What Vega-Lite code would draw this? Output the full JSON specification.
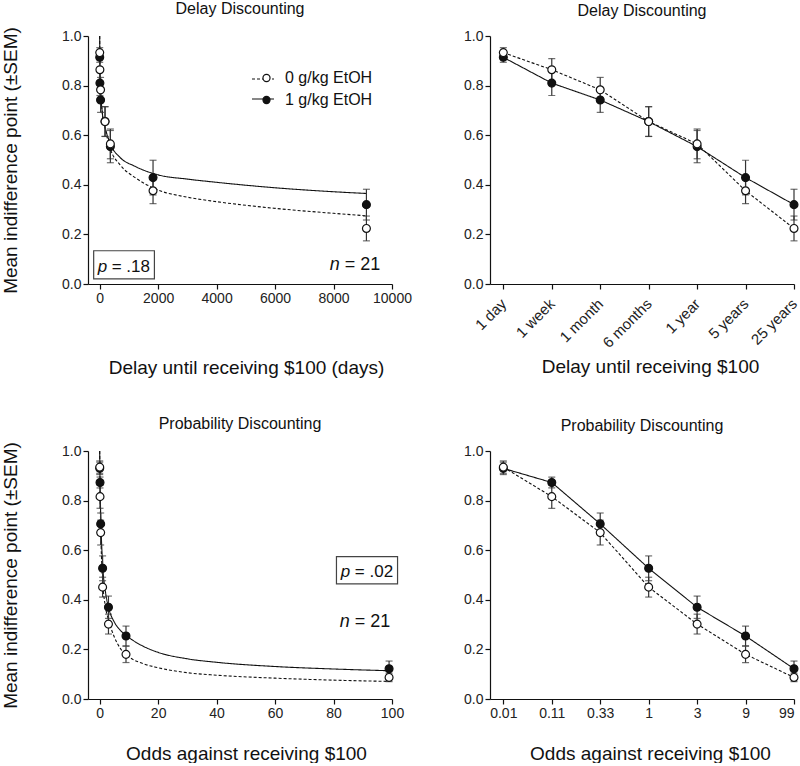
{
  "$schema": "https://vega.github.io/schema/vega-lite/v6.json",
  "padding": 0,
  "background": "white",
  "bounds": "flush",
  "columns": 2,
  "spacing": {"row": 167, "column": 98},
  "config": {
    "font": "Liberation Sans",
    "view": {"stroke": null},
    "axis": {"grid": false, "domainColor": "#111", "tickColor": "#111", "domainWidth": 1.2, "tickWidth": 1.2, "tickSize": 5, "labelColor": "#222", "labelFontSize": 14, "labelFont": "Liberation Sans", "titleFont": "Liberation Sans", "titleFontSize": 19, "titleFontWeight": "normal", "titleColor": "#111", "labelPadding": 2, "labelFlush": false, "labelOverlap": false},
    "title": {"font": "Liberation Sans", "fontSize": 16, "fontWeight": "normal", "color": "#111", "offset": 10, "baseline": "alphabetic"}
  },
  "datasets": {
    "delay": [
      {"grp": "1 g/kg EtOH", "days": 1, "delay": "1 day", "mean": 0.914, "lo": 0.894, "hi": 0.934},
      {"grp": "1 g/kg EtOH", "days": 7, "delay": "1 week", "mean": 0.810, "lo": 0.760, "hi": 0.860},
      {"grp": "1 g/kg EtOH", "days": 30, "delay": "1 month", "mean": 0.742, "lo": 0.692, "hi": 0.792},
      {"grp": "1 g/kg EtOH", "days": 182.5, "delay": "6 months", "mean": 0.655, "lo": 0.595, "hi": 0.715},
      {"grp": "1 g/kg EtOH", "days": 365, "delay": "1 year", "mean": 0.554, "lo": 0.489, "hi": 0.619},
      {"grp": "1 g/kg EtOH", "days": 1825, "delay": "5 years", "mean": 0.429, "lo": 0.359, "hi": 0.499},
      {"grp": "1 g/kg EtOH", "days": 9125, "delay": "25 years", "mean": 0.320, "lo": 0.258, "hi": 0.382},
      {"grp": "0 g/kg EtOH", "days": 1, "delay": "1 day", "mean": 0.933, "lo": 0.913, "hi": 0.953},
      {"grp": "0 g/kg EtOH", "days": 7, "delay": "1 week", "mean": 0.864, "lo": 0.819, "hi": 0.909},
      {"grp": "0 g/kg EtOH", "days": 30, "delay": "1 month", "mean": 0.783, "lo": 0.733, "hi": 0.833},
      {"grp": "0 g/kg EtOH", "days": 182.5, "delay": "6 months", "mean": 0.655, "lo": 0.595, "hi": 0.715},
      {"grp": "0 g/kg EtOH", "days": 365, "delay": "1 year", "mean": 0.565, "lo": 0.505, "hi": 0.625},
      {"grp": "0 g/kg EtOH", "days": 1825, "delay": "5 years", "mean": 0.376, "lo": 0.324, "hi": 0.428},
      {"grp": "0 g/kg EtOH", "days": 9125, "delay": "25 years", "mean": 0.224, "lo": 0.174, "hi": 0.274}
    ],
    "delayFit": [
      {"grp": "1 g/kg EtOH", "days": 0, "v": 1.0},
      {"grp": "1 g/kg EtOH", "days": 7, "v": 0.88},
      {"grp": "1 g/kg EtOH", "days": 30, "v": 0.79},
      {"grp": "1 g/kg EtOH", "days": 90, "v": 0.69},
      {"grp": "1 g/kg EtOH", "days": 180, "v": 0.635},
      {"grp": "1 g/kg EtOH", "days": 365, "v": 0.565},
      {"grp": "1 g/kg EtOH", "days": 700, "v": 0.51},
      {"grp": "1 g/kg EtOH", "days": 1200, "v": 0.475},
      {"grp": "1 g/kg EtOH", "days": 2000, "v": 0.44},
      {"grp": "1 g/kg EtOH", "days": 3000, "v": 0.423},
      {"grp": "1 g/kg EtOH", "days": 4000, "v": 0.41},
      {"grp": "1 g/kg EtOH", "days": 6000, "v": 0.388},
      {"grp": "1 g/kg EtOH", "days": 8000, "v": 0.372},
      {"grp": "1 g/kg EtOH", "days": 9125, "v": 0.365},
      {"grp": "0 g/kg EtOH", "days": 0, "v": 1.0},
      {"grp": "0 g/kg EtOH", "days": 7, "v": 0.88},
      {"grp": "0 g/kg EtOH", "days": 30, "v": 0.79},
      {"grp": "0 g/kg EtOH", "days": 90, "v": 0.69},
      {"grp": "0 g/kg EtOH", "days": 180, "v": 0.63},
      {"grp": "0 g/kg EtOH", "days": 365, "v": 0.545},
      {"grp": "0 g/kg EtOH", "days": 700, "v": 0.48},
      {"grp": "0 g/kg EtOH", "days": 1200, "v": 0.43},
      {"grp": "0 g/kg EtOH", "days": 2000, "v": 0.379},
      {"grp": "0 g/kg EtOH", "days": 3000, "v": 0.35},
      {"grp": "0 g/kg EtOH", "days": 4000, "v": 0.332},
      {"grp": "0 g/kg EtOH", "days": 6000, "v": 0.305},
      {"grp": "0 g/kg EtOH", "days": 8000, "v": 0.285},
      {"grp": "0 g/kg EtOH", "days": 9125, "v": 0.275}
    ],
    "prob": [
      {"grp": "1 g/kg EtOH", "odds": 0.01, "oddsLabel": "0.01", "mean": 0.930, "lo": 0.905, "hi": 0.955},
      {"grp": "1 g/kg EtOH", "odds": 0.111, "oddsLabel": "0.11", "mean": 0.873, "lo": 0.851, "hi": 0.895},
      {"grp": "1 g/kg EtOH", "odds": 0.333, "oddsLabel": "0.33", "mean": 0.706, "lo": 0.662, "hi": 0.750},
      {"grp": "1 g/kg EtOH", "odds": 1, "oddsLabel": "1", "mean": 0.527, "lo": 0.477, "hi": 0.577},
      {"grp": "1 g/kg EtOH", "odds": 3, "oddsLabel": "3", "mean": 0.370, "lo": 0.325, "hi": 0.415},
      {"grp": "1 g/kg EtOH", "odds": 9, "oddsLabel": "9", "mean": 0.254, "lo": 0.214, "hi": 0.294},
      {"grp": "1 g/kg EtOH", "odds": 99, "oddsLabel": "99", "mean": 0.122, "lo": 0.091, "hi": 0.153},
      {"grp": "0 g/kg EtOH", "odds": 0.01, "oddsLabel": "0.01", "mean": 0.935, "lo": 0.910, "hi": 0.960},
      {"grp": "0 g/kg EtOH", "odds": 0.111, "oddsLabel": "0.11", "mean": 0.816, "lo": 0.769, "hi": 0.863},
      {"grp": "0 g/kg EtOH", "odds": 0.333, "oddsLabel": "0.33", "mean": 0.671, "lo": 0.621, "hi": 0.721},
      {"grp": "0 g/kg EtOH", "odds": 1, "oddsLabel": "1", "mean": 0.451, "lo": 0.411, "hi": 0.491},
      {"grp": "0 g/kg EtOH", "odds": 3, "oddsLabel": "3", "mean": 0.302, "lo": 0.262, "hi": 0.342},
      {"grp": "0 g/kg EtOH", "odds": 9, "oddsLabel": "9", "mean": 0.180, "lo": 0.147, "hi": 0.213},
      {"grp": "0 g/kg EtOH", "odds": 99, "oddsLabel": "99", "mean": 0.087, "lo": 0.070, "hi": 0.104}
    ],
    "probFit": [
      {"grp": "1 g/kg EtOH", "odds": 0, "v": 1.0},
      {"grp": "1 g/kg EtOH", "odds": 0.11, "v": 0.88},
      {"grp": "1 g/kg EtOH", "odds": 0.33, "v": 0.75},
      {"grp": "1 g/kg EtOH", "odds": 1, "v": 0.545},
      {"grp": "1 g/kg EtOH", "odds": 2, "v": 0.43},
      {"grp": "1 g/kg EtOH", "odds": 3, "v": 0.37},
      {"grp": "1 g/kg EtOH", "odds": 5, "v": 0.31},
      {"grp": "1 g/kg EtOH", "odds": 7, "v": 0.278},
      {"grp": "1 g/kg EtOH", "odds": 10, "v": 0.248},
      {"grp": "1 g/kg EtOH", "odds": 15, "v": 0.212},
      {"grp": "1 g/kg EtOH", "odds": 20, "v": 0.188},
      {"grp": "1 g/kg EtOH", "odds": 30, "v": 0.162},
      {"grp": "1 g/kg EtOH", "odds": 40, "v": 0.148},
      {"grp": "1 g/kg EtOH", "odds": 60, "v": 0.131},
      {"grp": "1 g/kg EtOH", "odds": 80, "v": 0.121},
      {"grp": "1 g/kg EtOH", "odds": 99, "v": 0.114},
      {"grp": "0 g/kg EtOH", "odds": 0, "v": 1.0},
      {"grp": "0 g/kg EtOH", "odds": 0.11, "v": 0.86},
      {"grp": "0 g/kg EtOH", "odds": 0.33, "v": 0.70},
      {"grp": "0 g/kg EtOH", "odds": 1, "v": 0.48},
      {"grp": "0 g/kg EtOH", "odds": 2, "v": 0.37},
      {"grp": "0 g/kg EtOH", "odds": 3, "v": 0.32},
      {"grp": "0 g/kg EtOH", "odds": 5, "v": 0.25},
      {"grp": "0 g/kg EtOH", "odds": 7, "v": 0.205},
      {"grp": "0 g/kg EtOH", "odds": 10, "v": 0.17},
      {"grp": "0 g/kg EtOH", "odds": 15, "v": 0.142},
      {"grp": "0 g/kg EtOH", "odds": 20, "v": 0.126},
      {"grp": "0 g/kg EtOH", "odds": 30, "v": 0.106},
      {"grp": "0 g/kg EtOH", "odds": 40, "v": 0.096},
      {"grp": "0 g/kg EtOH", "odds": 60, "v": 0.084},
      {"grp": "0 g/kg EtOH", "odds": 80, "v": 0.076},
      {"grp": "0 g/kg EtOH", "odds": 99, "v": 0.071}
    ]
  },
  "concat": [
    {
      "width": 304, "height": 248,
      "title": "Delay Discounting",
      "layer": [
        {
          "data": {"name": "delayFit"},
          "mark": {"type": "line", "color": "#111", "strokeWidth": 1.1, "interpolate": "monotone"},
          "encoding": {
            "x": {"field": "days", "type": "quantitative", "scale": {"domain": [-400, 10000], "nice": false, "zero": false},
                  "axis": {"values": [0, 2000, 4000, 6000, 8000, 10000], "format": "d", "title": "Delay until receiving $100 (days)", "titleX": 158, "titleY": 89, "titleBaseline": "alphabetic"}},
            "y": {"field": "v", "type": "quantitative", "scale": {"domain": [0, 1], "nice": false},
                  "axis": {"values": [0, 0.2, 0.4, 0.6, 0.8, 1], "format": ".1f", "title": "Mean indifference point (±SEM)", "titleX": -72, "titleBaseline": "alphabetic"}},
            "strokeDash": {"field": "grp", "type": "nominal", "scale": {"domain": ["1 g/kg EtOH", "0 g/kg EtOH"], "range": [[1, 0], [3, 2]]},
                           "legend": {"title": null, "orient": "none", "legendX": 163, "legendY": 31, "direction": "vertical", "values": ["0 g/kg EtOH", "1 g/kg EtOH"],
                                      "padding": 0, "rowPadding": 0, "symbolType": "stroke", "symbolSize": 484, "symbolStrokeColor": "#111", "symbolStrokeWidth": 1.1,
                                      "labelFontSize": 16, "labelExpr": "''", "labelOffset": 0, "zindex": 0}}
          }
        },
        {
          "data": {"name": "delay"},
          "mark": {"type": "rule", "color": "#333", "strokeWidth": 1.2},
          "encoding": {"x": {"field": "days", "type": "quantitative"}, "y": {"field": "lo", "type": "quantitative"}, "y2": {"field": "hi"}}
        },
        {
          "data": {"name": "delay"},
          "mark": {"type": "tick", "orient": "horizontal", "size": 7, "thickness": 1.2, "color": "#333"},
          "encoding": {"x": {"field": "days", "type": "quantitative"}, "y": {"field": "lo", "type": "quantitative"}}
        },
        {
          "data": {"name": "delay"},
          "mark": {"type": "tick", "orient": "horizontal", "size": 7, "thickness": 1.2, "color": "#333"},
          "encoding": {"x": {"field": "days", "type": "quantitative"}, "y": {"field": "hi", "type": "quantitative"}}
        },
        {
          "data": {"name": "delay"},
          "mark": {"type": "point", "shape": "circle", "size": 62, "stroke": "#111", "strokeWidth": 1.2, "opacity": 1},
          "encoding": {
            "x": {"field": "days", "type": "quantitative"},
            "y": {"field": "mean", "type": "quantitative"},
            "fill": {"field": "grp", "type": "nominal", "scale": {"domain": ["0 g/kg EtOH", "1 g/kg EtOH"], "range": ["white", "#111"]},
                     "legend": {"title": null, "orient": "none", "legendX": 170.5, "legendY": 34, "direction": "vertical", "padding": 0, "rowPadding": 6,
                                "symbolType": "circle", "symbolSize": 50, "symbolStrokeColor": "#111", "symbolStrokeWidth": 1.2, "symbolOpacity": 1,
                                "labelFontSize": 16, "labelColor": "#111", "labelFont": "Liberation Sans", "labelOffset": 10.5, "zindex": 2}}
          }
        },
        {
          "data": {"values": [{}]},
          "mark": {"type": "rect", "fill": "transparent", "stroke": "#444", "strokeWidth": 1.2},
          "encoding": {"x": {"datum": -206, "type": "quantitative"}, "x2": {"datum": 1872}, "y": {"datum": 0.134, "type": "quantitative"}, "y2": {"datum": 0.021}}
        },
        {
          "data": {"values": [{}]},
          "mark": {"type": "text", "text": "p", "fontStyle": "italic", "fontSize": 17, "align": "left", "baseline": "alphabetic", "color": "#111"},
          "encoding": {"x": {"datum": -69, "type": "quantitative"}, "y": {"datum": 0.05, "type": "quantitative"}}
        },
        {
          "data": {"values": [{}]},
          "mark": {"type": "text", "text": "= .18", "fontSize": 17, "align": "left", "baseline": "alphabetic", "color": "#111", "dx": 14},
          "encoding": {"x": {"datum": -69, "type": "quantitative"}, "y": {"datum": 0.05, "type": "quantitative"}}
        },
        {
          "data": {"values": [{}]},
          "mark": {"type": "text", "text": "n", "fontStyle": "italic", "fontSize": 18, "align": "left", "baseline": "alphabetic", "color": "#111"},
          "encoding": {"x": {"datum": 7871, "type": "quantitative"}, "y": {"datum": 0.056, "type": "quantitative"}}
        },
        {
          "data": {"values": [{}]},
          "mark": {"type": "text", "text": "= 21", "fontSize": 18, "align": "left", "baseline": "alphabetic", "color": "#111", "dx": 15},
          "encoding": {"x": {"datum": 7871, "type": "quantitative"}, "y": {"datum": 0.056, "type": "quantitative"}}
        }
      ]
    },
    {
      "width": 304, "height": 248,
      "title": "Delay Discounting",
      "data": {"name": "delay"},
      "encoding": {
        "x": {"field": "delay", "type": "nominal",
              "scale": {"type": "point", "domain": ["1 day", "1 week", "1 month", "6 months", "1 year", "5 years", "25 years"], "padding": 0.1375, "align": 1},
              "axis": {"labelAngle": -45, "labelAlign": "right", "labelBaseline": "middle", "labelPadding": 12, "labelFontSize": 15, "title": "Delay until receiving $100", "titleX": 160, "titleY": 88, "titleBaseline": "alphabetic"}}
      },
      "layer": [
        {
          "mark": {"type": "line", "color": "#111", "strokeWidth": 1.1},
          "encoding": {
            "y": {"field": "mean", "type": "quantitative", "scale": {"domain": [0, 1], "nice": false},
                  "axis": {"values": [0, 0.2, 0.4, 0.6, 0.8, 1], "format": ".1f", "title": null}},
            "strokeDash": {"field": "grp", "type": "nominal", "scale": {"domain": ["1 g/kg EtOH", "0 g/kg EtOH"], "range": [[1, 0], [3, 2]]}, "legend": null}
          }
        },
        {
          "mark": {"type": "rule", "color": "#333", "strokeWidth": 1.2},
          "encoding": {"y": {"field": "lo", "type": "quantitative"}, "y2": {"field": "hi"}}
        },
        {
          "mark": {"type": "tick", "orient": "horizontal", "size": 7, "thickness": 1.2, "color": "#333"},
          "encoding": {"y": {"field": "lo", "type": "quantitative"}}
        },
        {
          "mark": {"type": "tick", "orient": "horizontal", "size": 7, "thickness": 1.2, "color": "#333"},
          "encoding": {"y": {"field": "hi", "type": "quantitative"}}
        },
        {
          "mark": {"type": "point", "shape": "circle", "size": 62, "stroke": "#111", "strokeWidth": 1.2, "opacity": 1},
          "encoding": {
            "y": {"field": "mean", "type": "quantitative"},
            "fill": {"field": "grp", "type": "nominal", "scale": {"domain": ["0 g/kg EtOH", "1 g/kg EtOH"], "range": ["white", "#111"]}, "legend": null}
          }
        }
      ]
    },
    {
      "width": 304, "height": 248,
      "title": "Probability Discounting",
      "layer": [
        {
          "data": {"name": "probFit"},
          "mark": {"type": "line", "color": "#111", "strokeWidth": 1.1, "interpolate": "monotone"},
          "encoding": {
            "x": {"field": "odds", "type": "quantitative", "scale": {"domain": [-4, 100], "nice": false, "zero": false},
                  "axis": {"values": [0, 20, 40, 60, 80, 100], "format": "d", "title": "Odds against receiving $100", "titleX": 158, "titleY": 60, "titleBaseline": "alphabetic"}},
            "y": {"field": "v", "type": "quantitative", "scale": {"domain": [0, 1], "nice": false},
                  "axis": {"values": [0, 0.2, 0.4, 0.6, 0.8, 1], "format": ".1f", "title": "Mean indifference point (±SEM)", "titleX": -72, "titleBaseline": "alphabetic"}},
            "strokeDash": {"field": "grp", "type": "nominal", "scale": {"domain": ["1 g/kg EtOH", "0 g/kg EtOH"], "range": [[1, 0], [3, 2]]}, "legend": null}
          }
        },
        {
          "data": {"name": "prob"},
          "mark": {"type": "rule", "color": "#333", "strokeWidth": 1.2},
          "encoding": {"x": {"field": "odds", "type": "quantitative"}, "y": {"field": "lo", "type": "quantitative"}, "y2": {"field": "hi"}}
        },
        {
          "data": {"name": "prob"},
          "mark": {"type": "tick", "orient": "horizontal", "size": 7, "thickness": 1.2, "color": "#333"},
          "encoding": {"x": {"field": "odds", "type": "quantitative"}, "y": {"field": "lo", "type": "quantitative"}}
        },
        {
          "data": {"name": "prob"},
          "mark": {"type": "tick", "orient": "horizontal", "size": 7, "thickness": 1.2, "color": "#333"},
          "encoding": {"x": {"field": "odds", "type": "quantitative"}, "y": {"field": "hi", "type": "quantitative"}}
        },
        {
          "data": {"name": "prob"},
          "mark": {"type": "point", "shape": "circle", "size": 62, "stroke": "#111", "strokeWidth": 1.2, "opacity": 1},
          "encoding": {
            "x": {"field": "odds", "type": "quantitative"},
            "y": {"field": "mean", "type": "quantitative"},
            "fill": {"field": "grp", "type": "nominal", "scale": {"domain": ["0 g/kg EtOH", "1 g/kg EtOH"], "range": ["white", "#111"]}, "legend": null}
          }
        },
        {
          "data": {"values": [{}]},
          "mark": {"type": "rect", "fill": "transparent", "stroke": "#444", "strokeWidth": 1.2},
          "encoding": {"x": {"datum": 81.0, "type": "quantitative"}, "x2": {"datum": 101.9}, "y": {"datum": 0.574, "type": "quantitative"}, "y2": {"datum": 0.464}}
        },
        {
          "data": {"values": [{}]},
          "mark": {"type": "text", "text": "p", "fontStyle": "italic", "fontSize": 17, "align": "left", "baseline": "alphabetic", "color": "#111"},
          "encoding": {"x": {"datum": 82.5, "type": "quantitative"}, "y": {"datum": 0.493, "type": "quantitative"}}
        },
        {
          "data": {"values": [{}]},
          "mark": {"type": "text", "text": "= .02", "fontSize": 17, "align": "left", "baseline": "alphabetic", "color": "#111", "dx": 14},
          "encoding": {"x": {"datum": 82.5, "type": "quantitative"}, "y": {"datum": 0.493, "type": "quantitative"}}
        },
        {
          "data": {"values": [{}]},
          "mark": {"type": "text", "text": "n", "fontStyle": "italic", "fontSize": 18, "align": "left", "baseline": "alphabetic", "color": "#111"},
          "encoding": {"x": {"datum": 82.1, "type": "quantitative"}, "y": {"datum": 0.292, "type": "quantitative"}}
        },
        {
          "data": {"values": [{}]},
          "mark": {"type": "text", "text": "= 21", "fontSize": 18, "align": "left", "baseline": "alphabetic", "color": "#111", "dx": 15},
          "encoding": {"x": {"datum": 82.1, "type": "quantitative"}, "y": {"datum": 0.292, "type": "quantitative"}}
        }
      ]
    },
    {
      "width": 304, "height": 248,
      "title": "Probability Discounting",
      "data": {"name": "prob"},
      "encoding": {
        "x": {"field": "oddsLabel", "type": "nominal",
              "scale": {"type": "point", "domain": ["0.01", "0.11", "0.33", "1", "3", "9", "99"], "padding": 0.1375, "align": 1},
              "axis": {"labelAngle": 0, "labelFlush": true, "title": "Odds against receiving $100", "titleX": 160, "titleY": 60, "titleBaseline": "alphabetic"}}
      },
      "layer": [
        {
          "mark": {"type": "line", "color": "#111", "strokeWidth": 1.1},
          "encoding": {
            "y": {"field": "mean", "type": "quantitative", "scale": {"domain": [0, 1], "nice": false},
                  "axis": {"values": [0, 0.2, 0.4, 0.6, 0.8, 1], "format": ".1f", "title": null}},
            "strokeDash": {"field": "grp", "type": "nominal", "scale": {"domain": ["1 g/kg EtOH", "0 g/kg EtOH"], "range": [[1, 0], [3, 2]]}, "legend": null}
          }
        },
        {
          "mark": {"type": "rule", "color": "#333", "strokeWidth": 1.2},
          "encoding": {"y": {"field": "lo", "type": "quantitative"}, "y2": {"field": "hi"}}
        },
        {
          "mark": {"type": "tick", "orient": "horizontal", "size": 7, "thickness": 1.2, "color": "#333"},
          "encoding": {"y": {"field": "lo", "type": "quantitative"}}
        },
        {
          "mark": {"type": "tick", "orient": "horizontal", "size": 7, "thickness": 1.2, "color": "#333"},
          "encoding": {"y": {"field": "hi", "type": "quantitative"}}
        },
        {
          "mark": {"type": "point", "shape": "circle", "size": 62, "stroke": "#111", "strokeWidth": 1.2, "opacity": 1},
          "encoding": {
            "y": {"field": "mean", "type": "quantitative"},
            "fill": {"field": "grp", "type": "nominal", "scale": {"domain": ["0 g/kg EtOH", "1 g/kg EtOH"], "range": ["white", "#111"]}, "legend": null}
          }
        }
      ]
    }
  ]
}
